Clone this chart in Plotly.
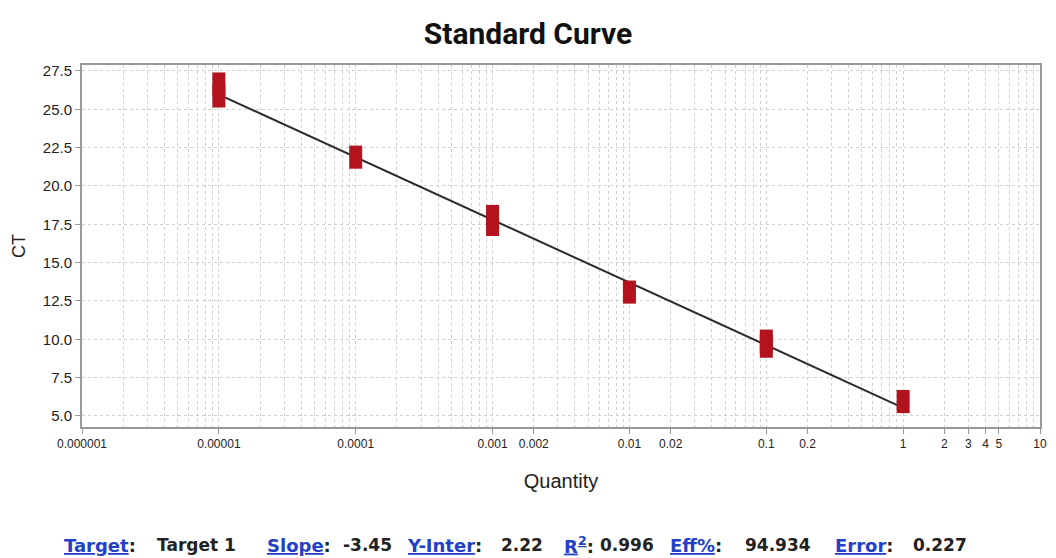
import plotly.graph_objects as go

# Replicate measurements (quantity, Ct)
quantity = [0.00001, 0.00001, 0.0001, 0.001, 0.001, 0.01, 0.1, 0.1, 1]
ct_values = [26.65, 25.87, 21.88, 18.01, 17.49, 13.08, 9.88, 9.55, 5.94]

# Regression line endpoints
fit_quantity = [0.00001, 1]
fit_ct = [25.96, 5.53]

x_tickvals = [0.000001, 0.00001, 0.0001, 0.001, 0.002, 0.01, 0.02, 0.1, 0.2, 1, 2, 3, 4, 5, 10]
x_ticktext = ["0.000001", "0.00001", "0.0001", "0.001", "0.002", "0.01", "0.02",
              "0.1", "0.2", "1", "2", "3", "4", "5", "10"]
y_tickvals = [5.0, 7.5, 10.0, 12.5, 15.0, 17.5, 20.0, 22.5, 25.0, 27.5]
y_ticktext = ["5.0", "7.5", "10.0", "12.5", "15.0", "17.5", "20.0", "22.5", "25.0", "27.5"]

stats_labels = ["Target", "Slope", "Y-Inter", "R<sup>2</sup>", "Eff%", "Error"]
stats_values = ["Target 1", "-3.45", "2.22", "0.996", "94.934", "0.227"]
# left pixel positions of each label / value in the footer line
label_px = [62, 266, 407, 566, 672, 838]
value_px = [156, 343, 502, 602, 748, 917]

SANS = "Liberation Sans, Arial, sans-serif"
RED = "#B3131C"

fig = go.Figure()
fig.add_trace(go.Scatter(
    x=fit_quantity, y=fit_ct, mode="lines",
    line=dict(color="#2b2b2b", width=2), hoverinfo="skip", showlegend=False))
fig.add_trace(go.Scatter(
    x=quantity, y=ct_values, mode="markers",
    marker=dict(symbol="line-ns", size=16.5, color=RED,
                line=dict(color=RED, width=13)),
    showlegend=False))

L, R, T, B = 82, 9, 65, 131
W, H = 1056, 558
pw, ph = W - L - R, H - T - B
footer_y = -(545 - (H - B)) / ph

def px_to_paper_x(px):
    return (px - L) / pw

foot_font = "DejaVu Sans, Verdana, sans-serif"
for lab, val, lx, vx in zip(stats_labels, stats_values, label_px, value_px):
    fig.add_annotation(
        x=px_to_paper_x(lx), y=footer_y, xref="paper", yref="paper",
        xanchor="left", yanchor="middle", showarrow=False,
        text=f"<span style='color:#2340c8;text-decoration:underline'><b>{lab}</b></span><b>:</b>",
        font=dict(family=foot_font, size=18, color="#222222"))
    fig.add_annotation(
        x=px_to_paper_x(vx), y=footer_y, xref="paper", yref="paper",
        xanchor="left", yanchor="middle", showarrow=False,
        text=f"<b>{val}</b>",
        font=dict(family=foot_font, size=17, color="#222222"))

grid_col = "#cfcfcf"
fig.update_layout(
    width=W, height=H,
    margin=dict(l=L, r=R, t=T, b=B),
    paper_bgcolor="white", plot_bgcolor="white",
    title=dict(text="<b>Standard Curve</b>", x=0.5, xanchor="center", y=0.94, yanchor="middle",
               font=dict(family="Roboto, sans-serif", size=30, color="#111111")),
    xaxis=dict(
        type="log", range=[-6, 1],
        tickvals=x_tickvals, ticktext=x_ticktext,
        tickfont=dict(family=SANS, size=12, color="#222222"),
        ticks="outside", ticklen=5, tickcolor="#999999",
        showline=True, linecolor="#999999", linewidth=2, mirror=True,
        showgrid=True, gridcolor=grid_col, griddash="dot", gridwidth=1,
        minor=dict(dtick="D1", showgrid=True, gridcolor=grid_col, griddash="dot", ticks=""),
        zeroline=False,
        title=dict(text="Quantity", font=dict(family=SANS, size=20, color="#222222"), standoff=24),
    ),
    yaxis=dict(
        range=[4.28, 27.89],
        tickvals=y_tickvals, ticktext=y_ticktext,
        tickfont=dict(family=SANS, size=15, color="#222222"),
        ticks="outside", ticklen=5, tickcolor="#999999",
        showline=True, linecolor="#999999", linewidth=2, mirror=True,
        showgrid=True, gridcolor=grid_col, griddash="dot", gridwidth=1,
        zeroline=False,
        title=dict(text="CT", font=dict(family=SANS, size=18, color="#222222"), standoff=12),
    ),
)

fig.write_html("out.html")
